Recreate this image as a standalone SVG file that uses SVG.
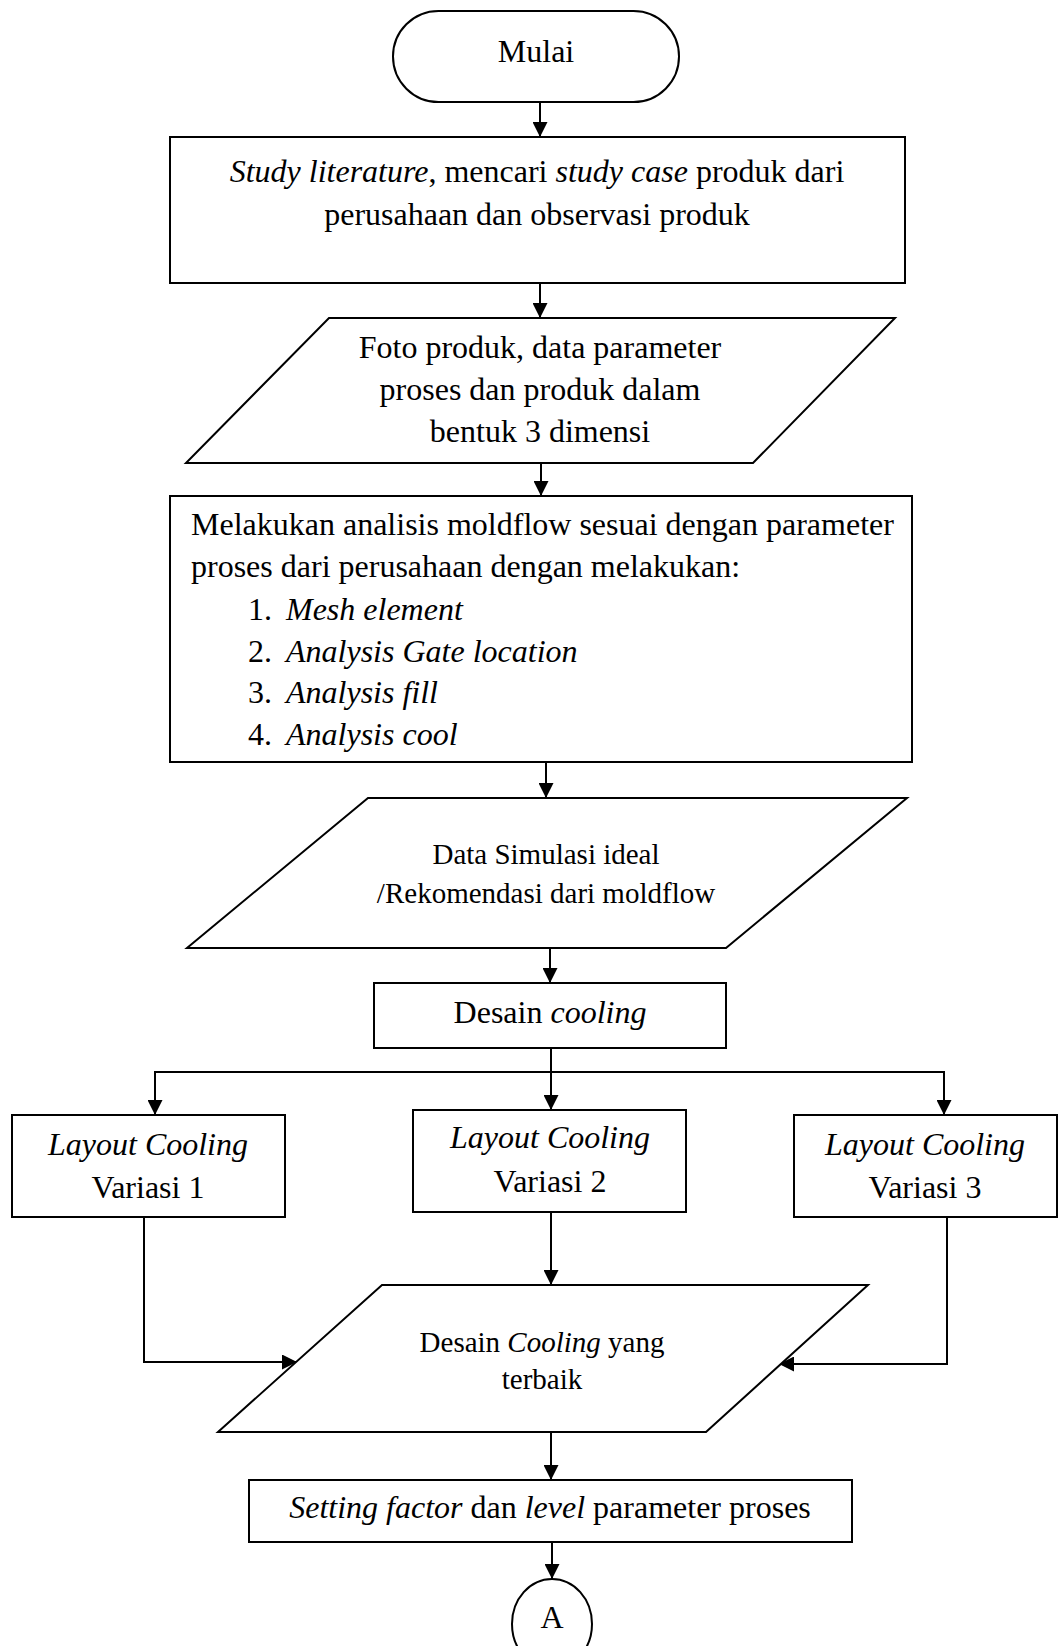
<svg xmlns="http://www.w3.org/2000/svg" width="1059" height="1646" viewBox="0 0 1059 1646">
<style>
.s{fill:#fff;stroke:#000;stroke-width:2}
.t{font-family:"Liberation Serif","Times New Roman",serif;font-size:32px;fill:#000}
.m{text-anchor:middle}
.sm{font-size:29px}
.i{font-style:italic}
.c{fill:none;stroke:#000;stroke-width:2}
</style>
<defs>
<marker id="ah" markerWidth="15" markerHeight="15" refX="15" refY="7.5" orient="auto" markerUnits="userSpaceOnUse">
<path d="M0,0 L15,7.5 L0,15 Z" fill="#000"/>
</marker>
</defs>
<rect width="1059" height="1646" fill="#fff"/>
<g id="connectors">
<line class="c" x1="540" y1="102" x2="540" y2="137" marker-end="url(#ah)"/>
<line class="c" x1="540" y1="283" x2="540" y2="318" marker-end="url(#ah)"/>
<line class="c" x1="541" y1="463" x2="541" y2="496" marker-end="url(#ah)"/>
<line class="c" x1="546" y1="762" x2="546" y2="798" marker-end="url(#ah)"/>
<line class="c" x1="550" y1="948" x2="550" y2="983" marker-end="url(#ah)"/>
<line class="c" x1="551" y1="1048" x2="551" y2="1110" marker-end="url(#ah)"/>
<polyline class="c" points="155,1115 155,1072 944,1072 944,1115" marker-end="url(#ah)"/>
<line class="c" x1="155" y1="1072" x2="155" y2="1115" marker-end="url(#ah)"/>
<polyline class="c" points="144,1217 144,1362 297,1362" marker-end="url(#ah)"/>
<line class="c" x1="551" y1="1212" x2="551" y2="1285" marker-end="url(#ah)"/>
<polyline class="c" points="947,1217 947,1364 779,1364" marker-end="url(#ah)"/>
<line class="c" x1="551" y1="1432" x2="551" y2="1480" marker-end="url(#ah)"/>
<line class="c" x1="552" y1="1542" x2="552" y2="1579" marker-end="url(#ah)"/>
</g>
<g id="mulai">
<rect class="s" x="393" y="11" width="286" height="91" rx="45.5" ry="45.5"/>
<text class="t m" x="536" y="62">Mulai</text>
</g>
<g id="study">
<rect class="s" x="170" y="137" width="735" height="146"/>
<text class="t m" x="537" y="182"><tspan class="i">Study literature</tspan>, mencari <tspan class="i">study case</tspan> produk dari</text>
<text class="t m" x="537" y="225">perusahaan dan observasi produk</text>
</g>
<g id="foto">
<polygon class="s" points="329,318 895,318 753,463 186,463"/>
<text class="t m" x="540" y="358">Foto produk, data parameter</text>
<text class="t m" x="540" y="400">proses dan produk dalam</text>
<text class="t m" x="540" y="442">bentuk 3 dimensi</text>
</g>
<g id="analisis">
<rect class="s" x="170" y="496" width="742" height="266"/>
<text class="t" x="191" y="535">Melakukan analisis moldflow sesuai dengan parameter</text>
<text class="t" x="191" y="577">proses dari perusahaan dengan melakukan:</text>
<text class="t" x="248" y="620">1.</text><text class="t i" x="286" y="620">Mesh element</text>
<text class="t" x="248" y="662">2.</text><text class="t i" x="286" y="662">Analysis Gate location</text>
<text class="t" x="248" y="703">3.</text><text class="t i" x="286" y="703">Analysis fill</text>
<text class="t" x="248" y="745">4.</text><text class="t i" x="286" y="745">Analysis cool</text>
</g>
<g id="data">
<polygon class="s" points="368,798 907,798 726,948 187,948"/>
<text class="t sm m" x="546" y="864">Data Simulasi ideal</text>
<text class="t sm m" x="546" y="903">/Rekomendasi dari moldflow</text>
</g>
<g id="desain">
<rect class="s" x="374" y="983" width="352" height="65"/>
<text class="t m" x="550" y="1023">Desain <tspan class="i">cooling</tspan></text>
</g>
<g id="var1">
<rect class="s" x="12" y="1115" width="273" height="102"/>
<text class="t m i" x="148" y="1155">Layout Cooling</text>
<text class="t m" x="148" y="1198">Variasi 1</text>
</g>
<g id="var2">
<rect class="s" x="413" y="1110" width="273" height="102"/>
<text class="t m i" x="550" y="1148">Layout Cooling</text>
<text class="t m" x="550" y="1192">Variasi 2</text>
</g>
<g id="var3">
<rect class="s" x="794" y="1115" width="263" height="102"/>
<text class="t m i" x="925" y="1155">Layout Cooling</text>
<text class="t m" x="925" y="1198">Variasi 3</text>
</g>
<g id="terbaik">
<polygon class="s" points="382,1285 868,1285 706,1432 218,1432"/>
<text class="t sm m" x="542" y="1352">Desain <tspan class="i">Cooling</tspan> yang</text>
<text class="t sm m" x="542" y="1389">terbaik</text>
</g>
<g id="setting">
<rect class="s" x="249" y="1480" width="603" height="62"/>
<text class="t m" x="550" y="1518"><tspan class="i">Setting factor</tspan> dan <tspan class="i">level</tspan> parameter proses</text>
</g>
<g id="a">
<ellipse class="s" cx="552" cy="1624" rx="40" ry="45"/>
<text class="t m" x="552" y="1628">A</text>
</g>
</svg>
